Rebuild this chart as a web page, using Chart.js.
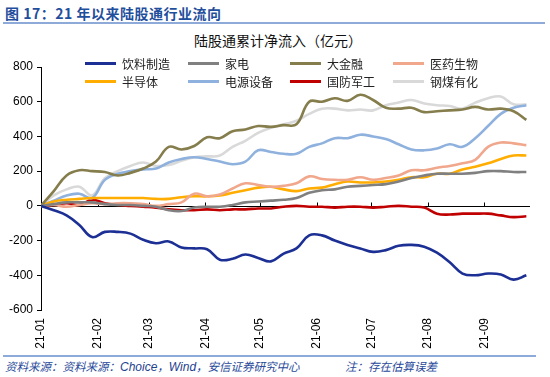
<!DOCTYPE html>
<html>
<head>
<meta charset="utf-8">
<script src="https://cdn.jsdelivr.net/npm/chart.js@4.4.1/dist/chart.umd.min.js"></script>
<style>
    body { margin: 0; width: 550px; height: 377px; background: #fff; position: relative; overflow: hidden;
           font-family: "Noto Sans CJK SC", "Liberation Sans", sans-serif; }
    .fig-title { position: absolute; left: 5px; top: 3px; font-size: 14px; font-weight: bold; color: #1f4e9c; letter-spacing: 0.5px; }
    .rule { position: absolute; left: 3px; width: 542px; height: 2px; background: #8eaad8; }
    .chart-title { position: absolute; left: 0; width: 556px; top: 30px; text-align: center; font-size: 14px; color: #111; }
    .chart-box { position: absolute; left: 0; top: 40px; width: 550px; height: 312px; }
    .legend { position: absolute; left: 0; top: 0; width: 550px; height: 100px; pointer-events: none; }
    .legend-item { position: absolute; display: flex; align-items: center; font-size: 12px; color: #222; height: 16px; }
    .legend-item span.swatch { display: inline-block; width: 31px; height: 3px; margin-right: 6px; }
    .source { position: absolute; left: 5px; top: 358px; font-size: 11.5px; font-style: italic; color: #2a4a9a; white-space: nowrap; }
    .source .latin { font-family: "Liberation Sans", sans-serif; font-size: 12px; color: #1f3f8f; }
    .note { position: absolute; left: 345px; top: 358px; font-size: 11.5px; font-style: italic; color: #2a4a9a; }
</style>
</head>
<body>
<div class="fig-title">图 17：21 年以来陆股通行业流向</div>
<div class="rule" style="top:22px"></div>
<div class="chart-title">陆股通累计净流入（亿元）</div>
<div class="chart-box"><canvas id="flowChart"></canvas></div>
<div class="legend" id="legend"></div>
<div class="rule" style="top:355px; width:533px"></div>
<div class="source">资料来源：资料来源：<span class="latin">Choice</span>，<span class="latin">Wind</span>，安信证券研究中心</div>
<div class="note">注：存在估算误差</div>

<script>
// Weekly observations, Jan 1 2021 to Sep 24 2021 (cumulative net inflow, 亿元)
const seriesNames = ['饮料制造', '家电', '大金融', '医药生物', '半导体', '电源设备', '国防军工', '钢煤有化'];
const seriesColors = ['#1c2f94', '#808080', '#857d4c', '#f0a78c', '#ffad00', '#8fb1de', '#c00000', '#d9d9d9'];

const beverage = [0, -25, -55, -110, -180, -150, -150, -160, -195, -215, -205, -240, -245, -250, -310, -305, -280, -300, -320, -275,
    -245, -170, -170, -200, -225, -245, -265, -255, -230, -225, -235, -270, -325, -390, -400, -390, -395, -425, -400];
const appliances = [0, 10, 20, 20, 20, 10, 5, 5, 0, -5, -25, -30, -10, -5, -5, 5, 20, 25, 30, 35,
    45, 75, 90, 95, 110, 115, 120, 125, 140, 160, 175, 185, 185, 185, 190, 200, 200, 195, 195];
const finance = [0, 85, 175, 205, 200, 195, 175, 190, 215, 255, 340, 325, 345, 395, 390, 430, 440, 460, 455, 465,
    470, 600, 600, 620, 605, 640, 610, 565, 560, 565, 540, 545, 550, 555, 570, 555, 560, 545, 495];
const pharma = [0, 5, -5, 5, 15, 10, 15, 15, 10, 0, 10, 20, 70, 55, 65, 100, 130, 120, 110, 115,
    130, 170, 155, 150, 150, 165, 150, 160, 175, 205, 205, 220, 230, 245, 265, 340, 365, 360, 350];
const semis = [0, 25, 35, 40, 45, 45, 45, 45, 45, 40, 40, 50, 55, 55, 60, 75, 90, 105, 110, 95,
    85, 100, 105, 125, 140, 135, 135, 140, 150, 165, 165, 185, 185, 210, 225, 245, 270, 290, 290];
const powerEquip = [0, 30, 60, 70, 45, 150, 185, 200, 210, 215, 250, 270, 280, 270, 255, 240, 255, 320, 310, 300,
    300, 340, 360, 390, 390, 410, 400, 385, 355, 325, 320, 330, 355, 340, 390, 460, 530, 565, 580];
const defense = [0, 5, 15, 5, 35, 15, 5, 0, -5, -10, -20, -25, -25, -20, -25, -20, -20, -15, -15, -5,
    0, -5, -5, -10, -5, -5, -10, -5, 0, -5, -10, -45, -50, -45, -45, -45, -55, -65, -60];
const materials = [0, 60, 95, 110, 60, 160, 200, 230, 250, 230, 235, 260, 280, 285, 290, 340, 375, 420, 450, 470,
    490, 530, 560, 560, 550, 555, 550, 580, 595, 610, 590, 580, 575, 560, 595, 620, 630, 585, 585];

// Month ticks: day offset from 2021-01-01 and label
const monthDays = [0, 31, 59, 90, 120, 151, 181, 212, 243];
const monthLabels = ['21-01', '21-02', '21-03', '21-04', '21-05', '21-06', '21-07', '21-08', '21-09'];
const yTicks = [800, 600, 400, 200, 0, -200, -400, -600];

const allSeries = [beverage, appliances, finance, pharma, semis, powerEquip, defense, materials];

// weekly points -> {x: day offset, y: value}
function toPoints(values) {
    return values.map((v, i) => ({ x: i * 7, y: v }));
}

// Legend (HTML, 4 columns x 2 rows)
function buildLegend() {
    const legend = document.getElementById('legend');
    const colX = [85, 188, 290, 393];
    const rowY = [55, 73];
    seriesNames.forEach((name, i) => {
        const item = document.createElement('div');
        item.className = 'legend-item';
        item.style.left = colX[i % 4] + 'px';
        item.style.top = rowY[Math.floor(i / 4)] + 'px';
        const sw = document.createElement('span');
        sw.className = 'swatch';
        sw.style.background = seriesColors[i];
        item.appendChild(sw);
        item.appendChild(document.createTextNode(name));
        legend.appendChild(item);
    });
}

// Zero axis line with upward month ticks
const zeroAxisPlugin = {
    id: 'zeroAxis',
    beforeDatasetsDraw(chart) {
        const { ctx, chartArea, scales } = chart;
        const y0 = Math.round(scales.y.getPixelForValue(0)) + 0.5;
        ctx.save();
        ctx.strokeStyle = '#000';
        ctx.lineWidth = 1;
        ctx.beginPath();
        ctx.moveTo(chartArea.left, y0);
        ctx.lineTo(chartArea.right, y0);
        monthDays.forEach(d => {
            const x = Math.round(scales.x.getPixelForValue(d)) + 0.5;
            ctx.moveTo(x, y0);
            ctx.lineTo(x, y0 - 4);
        });
        ctx.stroke();
        ctx.restore();
    }
};

function initializeFlowChart() {
    const ctx = document.getElementById('flowChart');
    if (!ctx) return;

    new Chart(ctx, {
        type: 'line',
        data: {
            datasets: allSeries.map((values, i) => ({
                label: seriesNames[i],
                data: toPoints(values),
                borderColor: seriesColors[i],
                backgroundColor: seriesColors[i],
                borderWidth: 2.6,
                pointRadius: 0,
                tension: 0.4,
                fill: false
            }))
        },
        options: {
            responsive: true,
            maintainAspectRatio: false,
            animation: false,
            layout: { padding: { top: 27, right: 20, left: 0, bottom: 0 } },
            plugins: {
                legend: { display: false },
                tooltip: { enabled: false }
            },
            scales: {
                x: {
                    type: 'linear',
                    min: 0,
                    max: 268,
                    border: { display: false },
                    grid: { display: false, drawTicks: false },
                    afterBuildTicks: function(scale) {
                        scale.ticks = monthDays.map(d => ({ value: d }));
                    },
                    afterFit: function(scale) { scale.height = 42; },
                    ticks: {
                        autoSkip: false,
                        minRotation: 90,
                        maxRotation: 90,
                        padding: 8,
                        color: '#000',
                        font: { family: 'Liberation Sans', size: 12 },
                        callback: function(value) {
                            const idx = monthDays.indexOf(value);
                            return idx >= 0 ? monthLabels[idx] : '';
                        }
                    }
                },
                y: {
                    min: -600,
                    max: 800,
                    border: { display: true, color: '#000', width: 1 },
                    grid: { drawOnChartArea: false, drawTicks: true, tickLength: 4, color: '#000' },
                    afterBuildTicks: function(scale) {
                        scale.ticks = yTicks.map(v => ({ value: v }));
                    },
                    afterFit: function(scale) { scale.width = 41; },
                    ticks: {
                        padding: 4,
                        color: '#000',
                        font: { family: 'Liberation Sans', size: 12 }
                    }
                }
            }
        },
        plugins: [zeroAxisPlugin]
    });
}

buildLegend();
initializeFlowChart();
</script>
</body>
</html>
